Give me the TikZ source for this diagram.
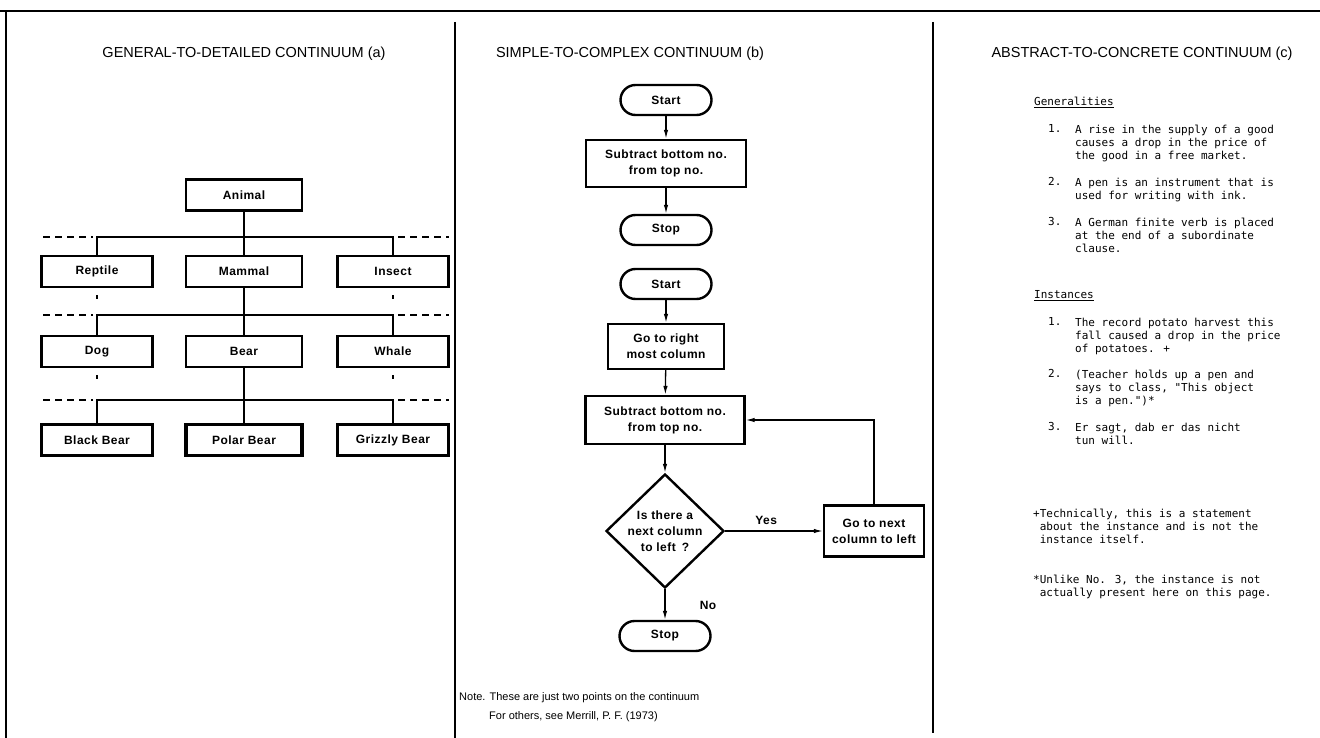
\documentclass[tikz,border=0pt]{standalone}
\usepackage{fontspec}
\setmainfont{Liberation Sans}
\newfontfamily\labelfamily[LetterSpace=4]{Liberation Sans}
\newfontfamily\typewriter{DejaVu Sans Mono}
\usetikzlibrary{shapes.geometric, arrows.meta}

% Fonts used in the picture
\newcommand{\ttlfont}{\fontsize{14.5}{17}\selectfont}
\newcommand{\bxfont}{\labelfamily\bfseries\fontsize{12}{16}\selectfont}
\newcommand{\ntfont}{\fontsize{11}{14}\selectfont}
\newcommand{\twfont}{\typewriter\fontsize{11}{13.3}\selectfont}

\begin{document}
\begin{tikzpicture}[x=1pt, y=-1pt,
		box/.style={draw, line width=2.4pt, inner sep=0pt, align=center, font=\bxfont},
		tbox/.style={box, minimum width=111pt, minimum height=31pt},
		leaf/.style={tbox, line width=3.4pt},
		term/.style={box, rounded corners=15pt, minimum width=91pt, minimum height=30pt},
		link/.style={line width=1.3pt},
		flow/.style={link, -{Latex[length=9pt,width=4.5pt]}},
		level/.style={line width=1.3pt, dash pattern=on 7pt off 5pt},
		divider/.style={line width=2.8pt},
		heading/.style={font=\ttlfont, anchor=base},
		typed/.style={font=\twfont, align=left, anchor=north west, inner sep=0pt}]

			% Define column centres of the tree
			\def\xL{97}
			\def\xM{244}
			\def\xR{393}

			% Fix the page size
			\useasboundingbox (0,0) rectangle (1320,738);

			% Draw the frame and the column dividers
			\draw[line width=2pt] (0,11) -- (1320,11);
			\draw[divider] (6,11) -- (6,738);
			\draw[divider] (455,22) -- (455,738);
			\draw[divider] (933,22) -- (933,733);

			% Column headings
			\node[heading] (heada) at (244,58) {GENERAL-TO-DETAILED CONTINUUM (a)};
			\node[heading] (headb) at (630,58) {SIMPLE-TO-COMPLEX CONTINUUM (b)};
			\node[heading, anchor=base west] (headc) at (988,58) {ABSTRACT-TO-CONCRETE CONTINUUM (c)};

			% Draw the tree of animals
			\node[tbox, minimum width=116pt] (animal) at (\xM,195) {Animal};
			\node[tbox] (reptile) at (\xL,271.5) {Reptile};
			\node[tbox, minimum width=116pt] (mammal) at (\xM,271.5) {Mammal};
			\node[tbox] (insect) at (\xR,271.5) {Insect};
			\node[tbox] (dog) at (\xL,351.5) {Dog};
			\node[tbox, minimum width=116pt] (bear) at (\xM,351.5) {Bear};
			\node[tbox] (whale) at (\xR,351.5) {Whale};
			\node[leaf] (blackbear) at (\xL,440) {Black Bear};
			\node[leaf, minimum width=116pt] (polarbear) at (\xM,440) {Polar Bear};
			\node[leaf] (grizzlybear) at (\xR,440) {Grizzly Bear};

			% Branches of each level
			\coordinate (bus1) at (\xM,237);
			\coordinate (bus2) at (\xM,315);
			\coordinate (bus3) at (\xM,400);
			\draw[link] (animal) -- (bus1) -- (mammal);
			\draw[link] (reptile) |- (bus1) -| (insect);
			\draw[link] (mammal) -- (bus2) -- (bear);
			\draw[link] (dog) |- (bus2) -| (whale);
			\draw[link] (bear) -- (bus3) -- (polarbear);
			\draw[link] (blackbear) |- (bus3) -| (grizzlybear);

			% Dashed level lines and small ticks
			\foreach \y in {237,315,400} {
				\draw[level] (43,\y) -- (93,\y);
				\draw[level] (398,\y) -- (449,\y);
			}
			\foreach \y in {297,377} {
				\draw[link] (\xL,\y-2) -- (\xL,\y+2);
				\draw[link] (\xR,\y-2) -- (\xR,\y+2);
			}

			% Draw the two flowcharts
			\node[term] (start1) at (666,100) {Start};
			\node[box, minimum width=160pt, minimum height=47pt] (sub1) at (666,163.5) {Subtract bottom no.\\from top no.};
			\node[term] (stop1) at (666,230) {Stop};
			\draw[flow] (start1) -- (sub1);
			\draw[flow] (sub1) -- (stop1);

			\node[term] (start2) at (666,284) {Start};
			\node[box, minimum width=116pt, minimum height=45pt] (rightcol) at (666,346.5) {Go to right\\most column};
			\node[box, minimum width=159pt, minimum height=48pt] (sub2) at (665,420) {Subtract bottom no.\\from top no.};
			\node[draw, diamond, line width=2.4pt, minimum width=118pt, minimum height=114pt, inner sep=0pt] (ask) at (665,531) {};
			\node[font=\bxfont, align=center] (asktext) at (ask) {Is there a\\next column\\to left\enspace ?};
			\node[box, minimum width=100pt, minimum height=51pt] (nextcol) at (874,531) {Go to next\\column to left};
			\node[term] (stop2) at (665,636) {Stop};

			\draw[flow] (start2) -- (rightcol);
			\draw[flow] (rightcol) -- (sub2);
			\draw[flow] (sub2) -- (ask);
			\draw[flow] (ask) -- (nextcol) node[pos=0.42, above=2pt, font=\bxfont] (yes) {Yes};
			\draw[flow] (nextcol.north) |- (sub2.east);
			\draw[flow] (ask) -- (stop2);
			\node[font=\bxfont] (no) at (708,605) {No};

			% Note under the flowcharts
			\node[font=\ntfont, anchor=base west, inner sep=0pt] (note1) at (459,700) {Note. These are just two points on the continuum};
			\node[font=\ntfont, anchor=base west, inner sep=0pt] (note2) at (489,719) {For others, see Merrill, P. F. (1973)};

			% Generalities and instances
			\node[typed] (gen) at (1034,96.6) {\underline{Generalities}};
			\node[typed] (gen1n) at (1048,124.6) {1.};
			\node[typed] (gen1) at (1075,124.6) {A rise in the supply of a good\\causes a drop in the price of\\the good in a free market.};
			\node[typed] (gen2n) at (1048,177.6) {2.};
			\node[typed] (gen2) at (1075,177.6) {A pen is an instrument that is\\used for writing with ink.};
			\node[typed] (gen3n) at (1048,217.6) {3.};
			\node[typed] (gen3) at (1075,217.6) {A German finite verb is placed\\at the end of a subordinate\\clause.};

			\node[typed] (inst) at (1034,290.6) {\underline{Instances}};
			\node[typed] (inst1n) at (1048,317.6) {1.};
			\node[typed] (inst1) at (1075,317.6) {The record potato harvest this\\fall caused a drop in the price\\of potatoes. +};
			\node[typed] (inst2n) at (1048,369.6) {2.};
			\node[typed] (inst2) at (1075,369.6) {(Teacher holds up a pen and\\says to class, "This object\\is a pen.")*};
			\node[typed] (inst3n) at (1048,422.6) {3.};
			\node[typed] (inst3) at (1075,422.6) {Er sagt, dab er das nicht\\tun will.};

			% Footnotes
			\node[typed] (foot1) at (1033,508.6) {+Technically, this is a statement\\\phantom{+}about the instance and is not the\\\phantom{+}instance itself.};
			\node[typed] (foot2) at (1033,574.6) {*Unlike No. 3, the instance is not\\\phantom{*}actually present here on this page.};
		\end{tikzpicture}
\end{document}
